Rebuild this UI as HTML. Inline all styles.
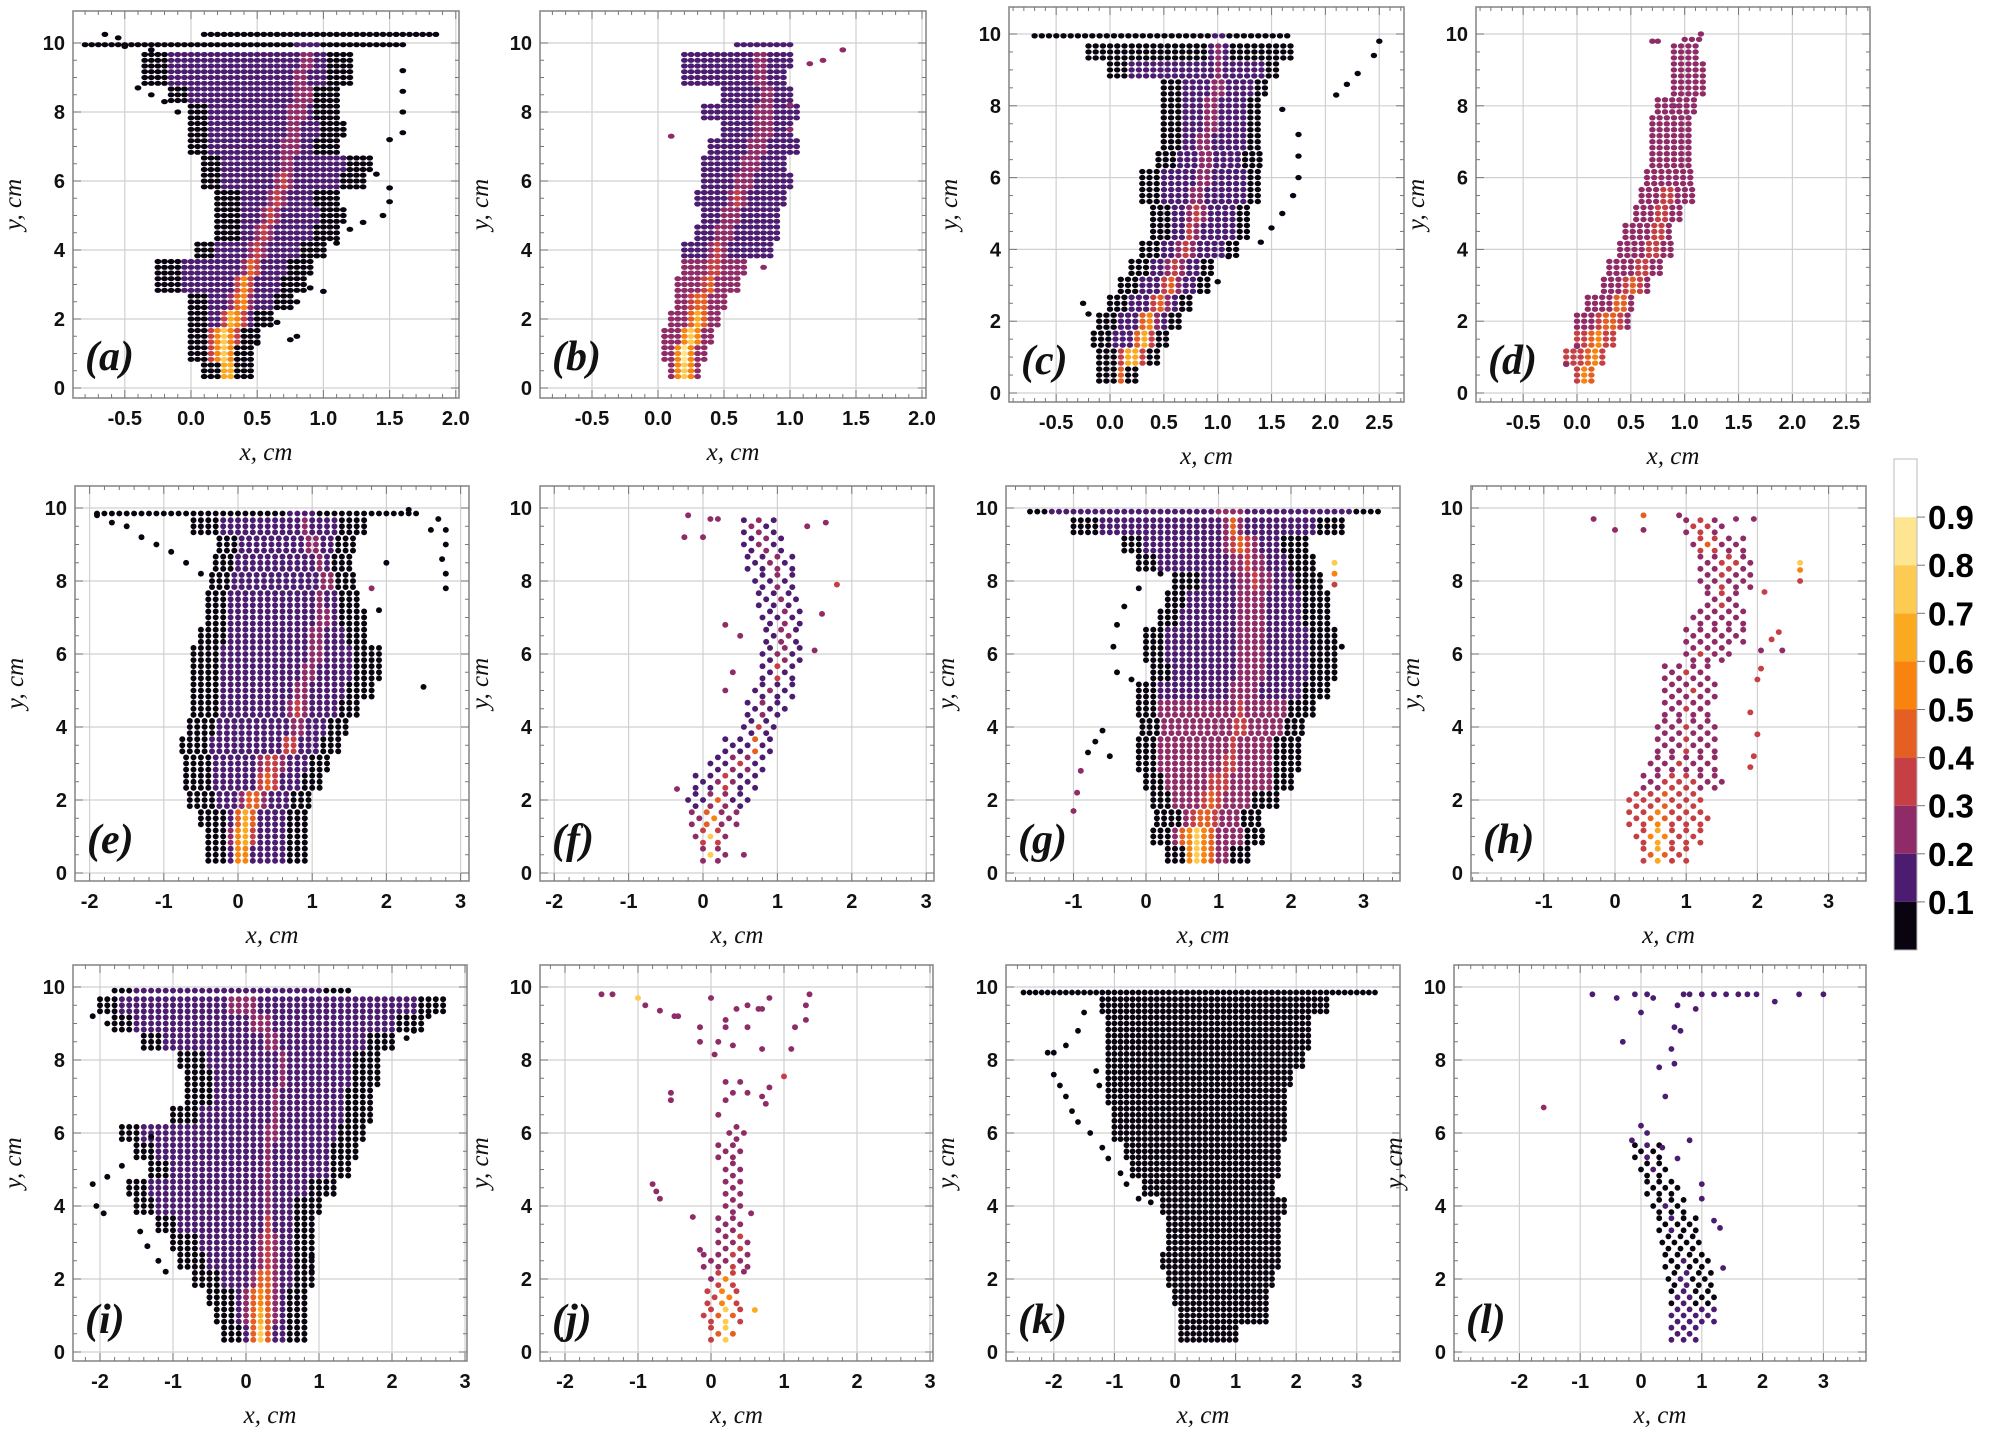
<!DOCTYPE html>
<html><head><meta charset="utf-8"><style>
html,body{margin:0;padding:0;background:#fff;}
svg{display:block;}
.tk{font-family:"Liberation Sans",sans-serif;font-weight:bold;font-size:20px;fill:#111;}
.al{font-family:"Liberation Serif",serif;font-style:italic;font-size:25px;fill:#111;}
.lt{font-family:"Liberation Serif",serif;font-style:italic;font-weight:bold;font-size:42px;fill:#111;}
.cb{font-family:"Liberation Sans",sans-serif;font-weight:bold;font-size:33px;fill:#000;}
</style></head><body>
<svg id="fig" width="1993" height="1440" viewBox="0 0 1993 1440" xmlns="http://www.w3.org/2000/svg"></svg>
<script>
// Row envelopes: [y, xLeft, xRight, hotCenter, hotWidth, hotLevel, baseLevel, singleRow]
const rowsA=[[0.5,0.1,0.45,.28,.15,.72,.2],[1,0,0.45,.25,.15,.78,.2],[1.5,0,0.5,.25,.15,.75,.2],[2,0,0.6,.32,.12,.7,.15],[2.5,0,0.75,.38,.1,.6,.15],[3,-0.25,0.85,.4,.1,.55,.15],[3.5,-0.25,0.9,.45,.1,.45,.15],[4,0.05,1.0,.5,.1,.4,.15],[4.5,0.2,1.1,.55,.1,.35,.15],[5,0.2,1.15,.6,.1,.35,.15],[5.5,0.2,1.1,.65,.1,.35,.15],[6,0.1,1.3,.7,.1,.35,.15],[6.5,0.1,1.35,.72,.1,.3,.12],[7,0,1.1,.75,.12,.3,.12],[7.5,0,1.15,.78,.12,.28,.12],[8,0,1.1,.8,.15,.28,.12],[8.5,-0.15,1.1,.85,.15,.28,.12],[9,-0.35,1.2,.85,.15,.25,.1],[9.5,-0.35,1.2,.9,.15,.25,.1],[9.95,-0.8,1.6,.9,.15,.2,.05,1],[10.25,0.1,1.85,.8,.2,.1,.05,1]];
const rowsB=[[0.5,0.1,0.3,.2,.1,.75,.25],[1,0.05,0.35,.2,.1,.82,.25],[1.5,0.05,0.4,.25,.1,.75,.25],[2,0.1,0.45,.3,.1,.65,.2],[2.5,0.15,0.5,.32,.1,.55,.2],[3,0.15,0.6,.38,.1,.45,.2],[3.5,0.2,0.65,.42,.1,.4,.2],[4,0.2,0.85,.45,.1,.35,.18],[4.5,0.3,0.9,.5,.1,.3,.18],[5,0.35,0.9,.55,.1,.3,.18],[5.5,0.3,0.95,.6,.1,.3,.18],[6,0.35,1.0,.65,.1,.28,.18],[6.5,0.35,0.95,.7,.1,.25,.18],[7,0.4,1.05,.75,.1,.25,.18],[7.5,0.5,1.0,.78,.1,.25,.18],[8,0.35,1.05,.8,.1,.25,.18],[8.5,0.5,1.0,.82,.1,.22,.18],[9,0.2,0.95,.8,.1,.22,.18],[9.5,0.2,1.0,.8,.1,.22,.18],[9.95,0.6,1.0,.8,.1,.2,.18,1]];
const rowsC=[[0.5,-0.1,0.3,.15,.12,.65,.15],[1,-0.1,0.5,.2,.15,.75,.15],[1.5,-0.15,0.55,.3,.12,.7,.15],[2,-0.1,0.7,.35,.12,.6,.15],[2.5,0,0.8,.45,.12,.5,.15],[3,0.1,0.95,.55,.12,.45,.15],[3.5,0.2,1.0,.6,.12,.4,.15],[4,0.3,1.2,.7,.12,.35,.12],[4.5,0.4,1.3,.75,.12,.35,.12],[5,0.4,1.3,.8,.12,.33,.12],[5.5,0.3,1.4,.8,.12,.33,.12],[6,0.3,1.4,.85,.12,.3,.12],[6.5,0.45,1.4,.9,.12,.3,.12],[7,0.5,1.4,.9,.12,.3,.12],[7.5,0.5,1.4,.95,.12,.28,.12],[8,0.5,1.4,.95,.12,.28,.12],[8.5,0.5,1.5,1.0,.12,.28,.12],[9,0.0,1.6,1.0,.12,.28,.1],[9.5,-0.2,1.7,1.0,.12,.25,.05],[9.95,-0.7,1.7,1.0,.12,.15,.05,1]];
const rowsD=[[0.5,0,0.2,.1,.1,.6,.3],[1,-0.1,0.3,.15,.1,.65,.3],[1.5,0,0.35,.2,.1,.6,.3],[2,0,0.5,.3,.12,.55,.28],[2.5,0.1,0.55,.4,.1,.5,.28],[3,0.25,0.7,.5,.1,.45,.28],[3.5,0.3,0.8,.6,.1,.4,.28],[4,0.4,0.9,.7,.1,.4,.28],[4.5,0.45,0.9,.75,.1,.35,.25],[5,0.55,1.0,.8,.1,.35,.25],[5.5,0.6,1.1,.85,.1,.35,.25],[6,0.65,1.1,.9,.1,.3,.25],[6.5,0.7,1.1,.9,.1,.3,.25],[7,0.7,1.1,.95,.1,.3,.25],[7.5,0.7,1.1,.95,.1,.3,.22],[8,0.75,1.15,1.0,.1,.3,.22],[8.5,0.9,1.2,1.05,.1,.3,.22],[9,0.9,1.2,1.05,.1,.3,.22],[9.5,0.9,1.15,1.05,.1,.28,.22],[9.85,1.0,1.2,1.1,.1,.25,.22,1]];
const rowsE=[[0.5,-0.4,0.9,.05,.15,.82,.15],[1,-0.4,0.95,.05,.2,.75,.15],[1.5,-0.5,0.95,.1,.2,.7,.15],[2,-0.65,1.0,.2,.2,.6,.15],[2.5,-0.7,1.15,.4,.2,.45,.15],[3,-0.7,1.25,.45,.2,.4,.15],[3.5,-0.75,1.35,.7,.15,.4,.15],[4,-0.65,1.5,.8,.15,.35,.15],[4.5,-0.6,1.6,.8,.15,.35,.15],[5,-0.6,1.8,.85,.15,.3,.15],[5.5,-0.6,1.9,.9,.15,.3,.15],[6,-0.6,1.9,1.0,.15,.3,.15],[6.5,-0.5,1.75,1.0,.15,.3,.15],[7,-0.4,1.7,1.1,.15,.3,.15],[7.5,-0.4,1.6,1.1,.15,.28,.15],[8,-0.35,1.6,1.2,.15,.28,.15],[8.5,-0.3,1.55,1.1,.15,.28,.12],[9,-0.25,1.6,1.0,.2,.28,.12],[9.5,-0.6,1.7,.9,.2,.25,.1],[9.85,-1.9,2.4,.9,.3,.2,.05,1]];
const rowsF=[[0.5,0,0.3,.1,.12,.72,.2],[1,-0.1,0.35,.1,.15,.72,.2],[1.5,-0.15,0.45,.12,.15,.6,.2],[2,-0.2,0.6,.2,.15,.45,.18],[2.5,-0.1,0.75,.3,.15,.35,.18],[3,0.1,0.85,.5,.15,.3,.18],[3.5,0.3,0.9,.7,.1,.4,.18],[4,0.55,1.0,.75,.1,.35,.18],[4.5,0.6,1.1,.8,.1,.3,.18],[5,0.7,1.2,.9,.1,.3,.18],[5.5,0.8,1.2,1.0,.1,.3,.18],[6,0.8,1.3,1.05,.1,.28,.18],[6.5,0.85,1.3,1.1,.1,.28,.18],[7,0.8,1.3,1.1,.1,.28,.18],[7.5,0.75,1.3,1.05,.1,.28,.18],[8,0.7,1.25,1.0,.1,.3,.18],[8.5,0.6,1.2,.95,.1,.28,.18],[9,0.55,1.1,.8,.1,.25,.18],[9.5,0.55,1.0,.7,.1,.25,.18]];
const rowsG=[[0.5,0.3,1.4,.7,.3,.7,.25],[1,0.1,1.6,.7,.3,.7,.25],[1.5,0.15,1.6,.8,.3,.55,.2],[2,0.1,1.8,.9,.3,.45,.2],[2.5,0,2.05,1.0,.3,.4,.2],[3,-0.1,2.1,1.1,.3,.35,.2],[3.5,-0.1,2.1,1.2,.3,.35,.2],[4,-0.05,2.2,1.3,.3,.35,.2],[4.5,-0.1,2.3,1.3,.3,.35,.2],[5,-0.1,2.5,1.4,.3,.3,.15],[5.5,0.1,2.6,1.5,.3,.3,.15],[6,0,2.6,1.5,.3,.3,.15],[6.5,0,2.6,1.5,.3,.3,.15],[7,0.2,2.5,1.5,.3,.3,.15],[7.5,0.3,2.5,1.5,.3,.3,.15],[8,0.4,2.4,1.5,.3,.33,.15],[8.5,-0.1,2.3,1.4,.3,.35,.15],[9,-0.3,2.2,1.3,.3,.4,.15],[9.5,-1.0,2.7,1.2,.3,.4,.1],[9.9,-1.6,3.2,1.2,.4,.3,.1,1]];
const rowsH=[[0.5,0.4,1.0,.6,.2,.65,.3],[1,0.3,1.2,.6,.25,.65,.3],[1.5,0.2,1.3,.6,.3,.5,.3],[2,0.2,1.2,.7,.3,.4,.3],[2.5,0.4,1.5,.9,.3,.35,.28],[3,0.5,1.4,.9,.3,.3,.28],[3.5,0.6,1.4,1.0,.2,.3,.28],[4,0.6,1.4,1.0,.2,.3,.28],[4.5,0.7,1.35,1.0,.2,.3,.28],[5,0.7,1.4,1.1,.2,.3,.28],[5.5,0.7,1.3,1.0,.2,.3,.28],[6,1.0,1.6,1.2,.2,.3,.28],[6.5,1.0,1.8,1.4,.2,.3,.28],[7,1.1,1.8,1.5,.2,.3,.28],[7.5,1.3,1.7,1.5,.2,.3,.28],[8,1.2,1.9,1.5,.2,.3,.28],[8.5,1.2,1.9,1.6,.2,.35,.28],[9,1.1,1.8,1.3,.2,.45,.28],[9.5,1.0,1.5,1.2,.2,.4,.28]];
const rowsI=[[0.5,-0.3,0.8,.2,.2,.75,.15],[1,-0.4,0.85,.2,.25,.7,.15],[1.5,-0.5,0.85,.2,.25,.6,.15],[2,-0.7,0.9,.25,.2,.5,.15],[2.5,-0.9,0.9,.3,.2,.4,.15],[3,-1.0,0.9,.3,.15,.35,.15],[3.5,-1.2,0.9,.3,.15,.3,.12],[4,-1.5,1.0,.3,.15,.3,.12],[4.5,-1.6,1.2,.3,.15,.28,.12],[5,-1.3,1.4,.3,.15,.25,.12],[5.5,-1.5,1.5,.3,.2,.25,.12],[6,-1.7,1.6,.35,.2,.25,.12],[6.5,-1.0,1.7,.4,.2,.25,.12],[7,-0.8,1.7,.4,.2,.25,.12],[7.5,-0.8,1.8,.5,.2,.25,.1],[8,-0.9,1.8,.5,.2,.25,.1],[8.5,-1.4,2.0,.4,.3,.25,.1],[9,-1.8,2.4,.2,.4,.25,.1],[9.5,-2.0,2.7,0,.6,.25,.1],[9.9,-1.8,1.4,0,.6,.2,.1,1]];
const rowsJ=[[0.5,0,0.35,.2,.15,.72,.3],[1,-0.1,0.4,.2,.15,.72,.3],[1.5,-0.05,0.4,.2,.15,.6,.3],[2,0,0.35,.2,.15,.5,.25],[2.5,-0.1,0.5,.3,.1,.35,.2],[3,0.1,0.5,.4,.1,.35,.2],[3.5,0.1,0.45,.35,.1,.35,.2],[4,0.2,0.4,.35,.1,.35,.2],[4.5,0.2,0.45,.35,.1,.3,.2],[5,0.2,0.4,.3,.1,.28,.2],[5.5,0.1,0.45,.3,.1,.25,.2],[6,0.25,0.5,.3,.1,.2,.2]];
const rowsK=[[0.5,0.1,1.0,0,1,.05,.05],[1,0.1,1.5,0,1,.05,.05],[1.5,0,1.5,0,1,.05,.05],[2,-0.1,1.6,0,1,.05,.05],[2.5,-0.2,1.7,0,1,.05,.05],[3,-0.1,1.7,0,1,.05,.05],[3.5,-0.1,1.75,0,1,.05,.05],[4,-0.2,1.8,0,1,.05,.05],[4.5,-0.5,1.6,0,1,.05,.05],[5,-0.7,1.7,0,1,.05,.05],[5.5,-0.8,1.7,0,1,.05,.05],[6,-1.0,1.8,0,1,.05,.05],[6.5,-1.0,1.8,0,1,.05,.05],[7,-1.1,1.8,0,1,.05,.05],[7.5,-1.1,1.9,0,1,.05,.05],[8,-1.1,2.1,0,1,.05,.05],[8.5,-1.1,2.2,0,1,.05,.05],[9,-1.1,2.2,0,1,.05,.05],[9.5,-1.2,2.5,0,1,.05,.05],[9.85,-2.5,3.3,0,1,.05,.05,1]];
const rowsL=[[0.5,0.5,0.9,.7,.2,.15,.12],[1,0.5,1.2,.7,.2,.15,.1],[1.5,0.5,1.25,.7,.2,.12,.08],[2,0.45,1.2,.7,.2,.12,.08],[2.5,0.4,1.1,.7,.2,.1,.05],[3,0.35,1.0,.6,.2,.1,.05],[3.5,0.3,0.9,.5,.2,.1,.05],[4,0.2,0.7,.4,.2,.1,.05],[4.5,0.1,0.6,.3,.2,.1,.05],[5,0,0.4,.2,.2,.1,.05],[5.5,-0.1,0.3,.1,.2,.1,.05]];
// Stray points: [x, y, value]
const straysA=[[-0.65,10.25,.05],[-0.55,10.15,.05],[-0.5,9.9,.05],[-0.3,9.8,.05],[-0.4,8.7,.05],[-0.3,8.5,.05],[-0.2,8.3,.05],[-0.1,8.0,.05],[1.0,2.8,.05],[0.9,2.9,.05],[0.8,2.5,.05],[0.65,1.9,.05],[0.8,1.5,.05],[0.75,1.4,.05],[0.5,1.3,.05],[1.5,5.4,.05],[1.45,5.0,.05],[1.3,4.8,.05],[1.2,4.6,.05],[1.1,4.2,.05],[1.5,7.2,.05],[1.6,7.4,.05],[1.6,8,.05],[1.6,8.6,.05],[1.6,9.2,.05],[1.4,6.2,.05],[1.5,5.8,.05]];
const straysB=[[0.1,7.3,.2],[1.4,9.8,.2],[1.25,9.5,.2],[1.15,9.4,.2],[1.0,8.2,.2],[1.0,7.5,.2],[0.8,3.5,.2],[0.05,1.5,.2]];
const straysC=[[1.75,7.2,.05],[1.75,6.6,.05],[1.75,6.0,.05],[1.7,5.5,.05],[1.6,5.0,.05],[1.5,4.6,.05],[1.4,4.2,.05],[1.6,7.9,.05],[2.1,8.3,.05],[2.2,8.6,.05],[2.3,8.9,.05],[2.45,9.4,.05],[2.5,9.8,.05],[-0.2,2.2,.05],[-0.25,2.5,.05],[1.0,3.1,.05],[1.1,3.8,.05]];
const straysD=[[-0.1,0.8,.2],[0.0,1.3,.2],[0.7,9.8,.2],[0.75,9.8,.2],[1.15,10.0,.2],[0.9,8.0,.25]];
const straysE=[[-1.9,9.8,.05],[-1.7,9.6,.05],[-1.5,9.5,.05],[-1.3,9.2,.05],[-1.1,9.0,.05],[-0.9,8.8,.05],[-0.7,8.5,.05],[-0.5,8.2,.05],[2.7,9.7,.05],[2.8,9.4,.05],[2.8,9.0,.05],[2.75,8.6,.05],[2.8,8.2,.05],[2.8,7.8,.05],[2.6,9.4,.05],[2.5,5.1,.05],[2.0,8.5,.05],[1.8,7.8,.25],[1.9,7.2,.05],[2.3,9.95,.05]];
const straysF=[[0.3,5.0,.2],[0.4,5.5,.2],[0.3,6.8,.2],[0.5,6.5,.2],[1.6,7.1,.2],[1.8,7.9,.3],[1.4,9.5,.2],[1.65,9.6,.2],[-0.2,9.8,.2],[-0.25,9.2,.2],[0,9.2,.2],[0.1,9.7,.2],[0.2,9.7,.2],[-0.35,2.3,.2],[1.5,6.1,.2],[0.55,0.5,.2]];
const straysG=[[-0.4,5.5,.05],[-0.45,6.2,.05],[-0.4,6.8,.05],[-0.3,7.3,.05],[-0.1,7.8,.05],[0.2,8.2,.05],[0.0,5.0,.05],[-0.2,5.3,.05],[-1,1.7,.2],[-0.95,2.2,.2],[-0.9,2.8,.2],[-0.8,3.3,.05],[-0.7,3.6,.05],[-0.6,3.9,.05],[-0.5,3.2,.05],[2.6,7.9,.3],[2.6,8.2,.55],[2.6,8.5,.75],[2.7,6.2,.05]];
const straysH=[[1.9,2.9,.3],[1.95,3.2,.35],[2.0,3.8,.3],[1.9,4.4,.3],[2.0,5.3,.35],[2.05,5.6,.3],[2.05,6.1,.25],[2.2,6.4,.3],[2.3,6.6,.3],[2.35,6.1,.25],[1.95,9.7,.25],[1.7,9.7,.25],[0.9,9.8,.25],[0.4,9.8,.45],[0.4,9.4,.25],[0.0,9.4,.25],[-0.3,9.7,.25],[2.6,8.0,.3],[2.6,8.3,.5],[2.6,8.5,.75],[2.1,7.7,.3]];
const straysI=[[-2.1,4.6,.05],[-2.05,4.0,.05],[-1.95,3.8,.05],[-1.9,4.8,.05],[-1.7,5.1,.05],[-1.5,5.5,.05],[-1.3,5.9,.05],[-1.45,3.3,.05],[-1.35,2.9,.05],[-1.2,2.5,.05],[-1.1,2.2,.05],[-2.1,9.2,.05],[-1.9,9.0,.05],[2.5,9.2,.05],[2.3,8.8,.05],[2.2,8.6,.05],[0.9,2.6,.05],[0.9,2.2,.05]];
const straysJ=[[-1.5,9.8,.2],[-1.35,9.8,.2],[-1.0,9.7,.7],[-0.9,9.5,.2],[-0.7,9.35,.2],[-0.5,9.2,.25],[-0.45,9.2,.25],[0.0,9.7,.2],[-0.15,8.9,.2],[-0.15,8.5,.2],[0.1,8.5,.2],[0.2,8.9,.25],[0.2,9.1,.25],[0.3,8.4,.2],[0.35,9.4,.2],[0.5,9.5,.2],[0.65,9.4,.2],[0.7,9.4,.2],[0.8,9.7,.2],[0.7,8.3,.2],[1.1,8.3,.2],[0.5,8.9,.2],[1.15,8.9,.25],[1.3,9.1,.2],[1.3,9.5,.2],[1.35,9.8,.2],[0.05,8.15,.2],[-0.55,7.1,.2],[-0.55,6.9,.2],[0.2,7.4,.2],[0.4,7.4,.2],[0.3,7.1,.2],[0.5,7.1,.2],[0.7,7.0,.2],[0.8,7.25,.2],[0.75,6.8,.2],[1.0,7.55,.3],[0.1,6.5,.2],[0.2,6.9,.2],[-0.8,4.6,.2],[-0.75,4.4,.2],[-0.7,4.2,.2],[-0.25,3.7,.2],[-0.15,2.8,.2],[0.6,1.15,.6],[0.55,3.8,.2],[0.45,2.2,.2]];
const straysK=[[-2.1,8.2,.05],[-2.0,8.2,.05],[-1.8,8.4,.05],[-1.6,8.8,.05],[-1.5,9.3,.05],[-2.0,7.6,.05],[-1.9,7.3,.05],[-1.8,7.0,.05],[-1.7,6.6,.05],[-1.6,6.3,.05],[-1.4,6.0,.05],[-1.2,5.6,.05],[-1.1,5.3,.05],[-0.9,4.9,.05],[-0.8,4.6,.05],[-0.6,4.2,.05],[-0.4,4.1,.05],[-1.3,7.7,.05],[-1.25,7.3,.05]];
const straysL=[[-0.8,9.8,.1],[-0.4,9.7,.15],[-0.1,9.8,.1],[0.1,9.8,.1],[0.2,9.7,.1],[0.7,9.8,.1],[0.8,9.8,.1],[1.0,9.8,.1],[1.2,9.8,.1],[1.4,9.8,.1],[1.6,9.8,.1],[1.75,9.8,.1],[1.9,9.8,.1],[2.2,9.6,.1],[2.6,9.8,.1],[3.0,9.8,.1],[-1.6,6.7,.2],[-0.3,8.5,.1],[0.0,9.3,.1],[0.0,6.2,.1],[0.1,6.0,.1],[0.4,7.0,.1],[0.5,8.3,.1],[0.55,8.9,.1],[0.6,9.5,.1],[0.55,7.9,.1],[0.3,7.8,.1],[0.65,8.8,.1],[0.9,9.4,.1],[0.8,5.8,.1],[-0.15,5.8,.1],[0.35,5.6,.1],[0.6,5.3,.1],[1.0,4.6,.1],[1.0,4.2,.1],[1.2,3.6,.1],[1.3,3.4,.1],[1.35,2.3,.1]];

const levels=['#0a0410','#4c1c70','#8f2b66','#c53f44','#e55f22','#f8840f','#fba91f','#fdca52','#fde592','#ffffff'];
const cbTicks=['0.1','0.2','0.3','0.4','0.5','0.6','0.7','0.8','0.9'];

const panels=[
 {id:'a',rows:rowsA,st:straysA,L:73,T:11,R:459,B:398,x0:191,xu:132.4,y0:388,yu:34.5,xt:[-0.5,0,0.5,1,1.5,2],dec:1,mn:0.1,dx:0.05,ew:0.15,sp:0,rx:3.4,ry:2.6},
 {id:'b',rows:rowsB,st:straysB,L:540,T:11,R:926,B:398,x0:658,xu:132,y0:388,yu:34.5,xt:[-0.5,0,0.5,1,1.5,2],dec:1,mn:0.1,dx:0.05,ew:0,sp:0,rx:3.4,ry:2.6},
 {id:'c',rows:rowsC,st:straysC,L:1009,T:7,R:1404,B:402,x0:1110,xu:107.7,y0:393,yu:35.9,xt:[-0.5,0,0.5,1,1.5,2,2.5],dec:1,mn:0.1,dx:0.067,ew:0.15,sp:0,rx:3.2,ry:2.7},
 {id:'d',rows:rowsD,st:straysD,L:1476,T:7,R:1870,B:402,x0:1577,xu:107.7,y0:393,yu:35.9,xt:[-0.5,0,0.5,1,1.5,2,2.5],dec:1,mn:0.1,dx:0.067,ew:0,sp:0,rx:3.2,ry:2.7},
 {id:'e',rows:rowsE,st:straysE,L:75,T:486,R:469,B:881,x0:238,xu:74.2,y0:873,yu:36.5,xt:[-2,-1,0,1,2,3],dec:0,mn:0.2,dx:0.1,ew:0.3,sp:0,rx:3,ry:2.9},
 {id:'f',rows:rowsF,st:straysF,L:540,T:486,R:934,B:881,x0:703,xu:74.4,y0:873,yu:36.5,xt:[-2,-1,0,1,2,3],dec:0,mn:0.2,dx:0.1,ew:0,sp:1,rx:3,ry:2.9},
 {id:'g',rows:rowsG,st:straysG,L:1006,T:486,R:1400,B:881,x0:1146,xu:72.5,y0:873,yu:36.5,xt:[-1,0,1,2,3],dec:0,mn:0.2,dx:0.1,ew:0.3,sp:0,rx:3,ry:2.9},
 {id:'h',rows:rowsH,st:straysH,L:1471,T:486,R:1866,B:881,x0:1615,xu:71.2,y0:873,yu:36.5,xt:[-1,0,1,2,3],dec:0,mn:0.2,dx:0.1,ew:0,sp:1,rx:3,ry:2.9},
 {id:'i',rows:rowsI,st:straysI,L:73,T:965,R:467,B:1361,x0:246,xu:73,y0:1352,yu:36.5,xt:[-2,-1,0,1,2,3],dec:0,mn:0.2,dx:0.1,ew:0.3,sp:0,rx:3,ry:2.9},
 {id:'j',rows:rowsJ,st:straysJ,L:540,T:965,R:933,B:1361,x0:711,xu:73,y0:1352,yu:36.5,xt:[-2,-1,0,1,2,3],dec:0,mn:0.2,dx:0.1,ew:0,sp:1,rx:3,ry:2.9},
 {id:'k',rows:rowsK,st:straysK,L:1006,T:965,R:1400,B:1361,x0:1175,xu:60.6,y0:1352,yu:36.5,xt:[-2,-1,0,1,2,3],dec:0,mn:0.2,dx:0.1,ew:0,sp:0,rx:2.9,ry:2.9},
 {id:'l',rows:rowsL,st:straysL,L:1454,T:965,R:1866,B:1361,x0:1641,xu:60.8,y0:1352,yu:36.5,xt:[-2,-1,0,1,2,3],dec:0,mn:0.2,dx:0.1,ew:0,sp:1,rx:2.9,ry:2.9}
];

const NS='http://www.w3.org/2000/svg';
const svg=document.getElementById('fig');
function mk(tag,attrs,parent){const e=document.createElementNS(NS,tag);for(const k in attrs)e.setAttribute(k,attrs[k]);(parent||svg).appendChild(e);return e;}
function colorOf(v){let i=Math.floor(v*10);if(i<0)i=0;if(i>9)i=9;return levels[i];}

panels.forEach(p=>{
  const sx=x=>p.x0+x*p.xu, sy=y=>p.y0-y*p.yu;
  const g=mk('g',{});
  
  
  mk('rect',{x:p.L,y:p.T,width:p.R-p.L,height:p.B-p.T,fill:'#fff'},g);
  p.xt.forEach(t=>{const l=mk('line',{x1:sx(t),x2:sx(t),y1:p.T,y2:p.B,stroke:'#d0d0d0','stroke-width':1.2},g);});
  [0,2,4,6,8,10].forEach(t=>{const l=mk('line',{x1:p.L,x2:p.R,y1:sy(t),y2:sy(t),stroke:'#d0d0d0','stroke-width':1.2},g);});
  const dg=mk('g',{},g);
  
  
  p.rows.forEach((r,ri)=>{
    const [y,lo,hi,c,w,lv,b,single]=r;
    const subs=single?[0]:[-0.167,0,0.167];
    subs.forEach((s,si)=>{
      const yy=y+s; if(yy<0.3)return;
      let j=0;
      for(let x=lo;x<=hi+1e-9;x+=p.dx,j++){
        if(p.sp&&((j+si+ri)%2===1))continue;
        let v=b+(lv-b)*Math.max(0,1-Math.abs(x-c)/w);
        if(p.ew>0&&Math.min(x-lo,hi-x)<p.ew)v=0.05;
        const d=mk('ellipse',{cx:sx(x).toFixed(1),cy:sy(yy).toFixed(1),rx:p.rx,ry:p.ry,fill:colorOf(v)},dg);
        
        
      }
    });
  });
  p.st.forEach(s=>{
    const d=mk('ellipse',{cx:sx(s[0]).toFixed(1),cy:sy(s[1]).toFixed(1),rx:p.rx,ry:p.ry,fill:colorOf(s[2])},dg);
    
    
  });
  const fr=mk('rect',{x:p.L,y:p.T,width:p.R-p.L,height:p.B-p.T,fill:'none',stroke:'#8a8a8a','stroke-width':1.6},g);
  
  
  const xmin=(p.L-p.x0)/p.xu,xmax=(p.R-p.x0)/p.xu;
  for(let t=Math.ceil(xmin/p.mn)*p.mn;t<=xmax;t+=p.mn){
    const X=sx(t);
    const maj=p.xt.some(m=>Math.abs(m-t)<1e-6);const len=maj?8:4;
    mk('line',{x1:X,x2:X,y1:p.B,y2:p.B-len,stroke:'#777','stroke-width':1},g);
    mk('line',{x1:X,x2:X,y1:p.T,y2:p.T+len,stroke:'#777','stroke-width':1},g);
  }
  for(let t=0;t<=10.01;t+=0.5){
    const Y=sy(t);const len=(Math.abs(t%2)<1e-6)?8:4;
    mk('line',{x1:p.L,x2:p.L+len,y1:Y,y2:Y,stroke:'#777','stroke-width':1},g);
    mk('line',{x1:p.R,x2:p.R-len,y1:Y,y2:Y,stroke:'#777','stroke-width':1},g);
  }
  p.xt.forEach(t=>{const e=mk('text',{x:sx(t),y:p.B+27,'text-anchor':'middle',class:'tk'},g);e.textContent=t.toFixed(p.dec);});
  [0,2,4,6,8,10].forEach(t=>{const e=mk('text',{x:p.L-8,y:sy(t)+7,'text-anchor':'end',class:'tk'},g);e.textContent=String(t);});
  const xl=mk('text',{x:(p.L+p.R)/2,y:p.B+62,'text-anchor':'middle',class:'al'},g);
  xl.textContent='x,  cm';
  
  
  const cy=(p.T+p.B)/2;
  const yl=mk('text',{x:p.L-52,y:cy,'text-anchor':'middle',class:'al',transform:'rotate(-90 '+(p.L-52)+' '+cy+')'},g);
  yl.textContent='y,  cm';
  
  
  const lt=mk('text',{x:p.L+12,y:p.B-28,class:'lt'},g);
  lt.textContent='('+p.id+')';
  
  
});

const cbg=mk('g',{});


const cbTop=459,cbBot=950,cbStep=48.1;
levels.forEach((c,i)=>{
  const yb=cbBot-i*cbStep, yt=(i===9)?cbTop:cbBot-(i+1)*cbStep;
  const r=mk('rect',{x:1894,y:yt,width:23,height:yb-yt,fill:c},cbg);
  
  
});
mk('rect',{x:1894,y:cbTop,width:23,height:cbBot-cbTop,fill:'none',stroke:'#bbb','stroke-width':1},cbg);
cbTicks.forEach((t,i)=>{
  const Y=cbBot-(i+1)*cbStep;
  mk('line',{x1:1917,x2:1925,y1:Y,y2:Y,stroke:'#777'},cbg);
  const e=mk('text',{x:1928,y:Y+12,class:'cb'},cbg);
  e.textContent=t;
  
  
});
</script>
</body></html>
